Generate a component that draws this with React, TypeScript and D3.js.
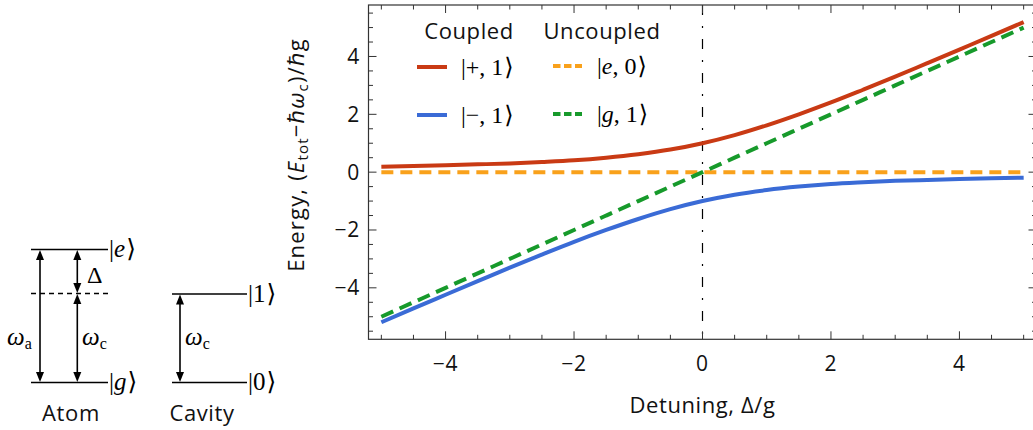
import React from "react";
import * as d3 from "d3";

const detuning = [-5, -4.5, -4, -3.5, -3, -2.5, -2, -1.5, -1, -0.5, 0, 0.5, 1, 1.5, 2, 2.5, 3, 3.5, 4, 4.5, 5];
const plusState = [0.19, 0.21, 0.24, 0.27, 0.3, 0.35, 0.41, 0.5, 0.62, 0.78, 1.0, 1.28, 1.62, 2.0, 2.41, 2.85, 3.3, 3.77, 4.24, 4.71, 5.19];
const minusState = [-5.19, -4.71, -4.24, -3.77, -3.3, -2.85, -2.41, -2.0, -1.62, -1.28, -1.0, -0.78, -0.62, -0.5, -0.41, -0.35, -0.3, -0.27, -0.24, -0.21, -0.19];
const uncoupledE0 = [0, 0, 0, 0, 0, 0, 0, 0, 0, 0, 0, 0, 0, 0, 0, 0, 0, 0, 0, 0, 0];
const uncoupledG1 = [-5, -4.5, -4, -3.5, -3, -2.5, -2, -1.5, -1, -0.5, 0, 0.5, 1, 1.5, 2, 2.5, 3, 3.5, 4, 4.5, 5];
const xMajorTicks = [-4, -2, 0, 2, 4];
const yMajorTicks = [-4, -2, 0, 2, 4];

const RED = "#c93a14";
const BLUE = "#3a6bd6";
const ORANGE = "#f9a11b";
const GREEN = "#179a2b";
const SANS = "'Open Sans', 'Noto Sans', sans-serif";
const SERIF = "'Liberation Serif', 'DejaVu Serif', serif";

const L = 368.5, R = 1036.5, T = 5, B = 339.3;

function Ket({ x, y, parts, size = 24 }: { x: number; y: number; parts: { t: string; i?: boolean }[]; size?: number }) {
  return (
    <text x={x} y={y} fontFamily={SERIF} fontSize={size} fill="#000">
      <tspan>|</tspan>
      {parts.map((p, k) => (
        <tspan key={k} fontStyle={p.i ? "italic" : "normal"}>{p.t}</tspan>
      ))}
      <tspan fontFamily="'DejaVu Serif', serif" fontSize={size} dx={1}>⟩</tspan>
    </text>
  );
}

function DArrow({ x, y1, y2 }: { x: number; y1: number; y2: number }) {
  const h = 10, w = 4;
  return (
    <g>
      <line x1={x} x2={x} y1={y1 + h - 1} y2={y2 - h + 1} stroke="#000" strokeWidth={1.6} />
      <path d={`M${x},${y1} L${x - w},${y1 + h} L${x + w},${y1 + h} Z`} fill="#000" />
      <path d={`M${x},${y2} L${x - w},${y2 - h} L${x + w},${y2 - h} Z`} fill="#000" />
    </g>
  );
}

function Omega({ x, y, sub }: { x: number; y: number; sub: string }) {
  return (
    <text x={x} y={y} fontFamily={SERIF} fontSize={25} fill="#000">
      <tspan fontStyle="italic">ω</tspan>
      <tspan fontSize={16} dy={4}>{sub}</tspan>
    </text>
  );
}

export default function App() {
  const x = d3.scaleLinear().domain([-5.2, 5.2]).range([L, R]);
  const y = d3.scaleLinear().domain([-5.78, 5.78]).range([B, T]);
  const line = d3
    .line<[number, number]>()
    .x((d) => x(d[0]))
    .y((d) => y(d[1]))
    .curve(d3.curveMonotoneX);
  const pts = (vals: number[]) => detuning.map((d, i) => [d, vals[i]] as [number, number]);

  const xMinor = d3.range(-5, 5.01, 0.5).filter((v) => !xMajorTicks.includes(v));
  const yMinor = d3.range(-5.5, 5.51, 0.5).filter((v) => !yMajorTicks.includes(v));
  const frame = "#333";
  const lab = { fontFamily: SANS, fill: "#111" } as const;

  return (
    <svg width={1033} height={430} style={{ position: "absolute", left: 0, top: 0, background: "#fff" }}>
      {/* Energy level diagram */}
      <g stroke="#000" strokeWidth={1.6}>
        <line x1={31} x2={108} y1={249.5} y2={249.5} />
        <line x1={31} x2={108} y1={293.5} y2={293.5} strokeDasharray="5,4" />
        <line x1={31} x2={108} y1={382.5} y2={382.5} />
        <line x1={172} x2={247} y1={294} y2={294} />
        <line x1={172} x2={247} y1={382.5} y2={382.5} />
      </g>
      <DArrow x={40} y1={250} y2={382} />
      <DArrow x={77.3} y1={250} y2={293} />
      <DArrow x={77.3} y1={294} y2={382} />
      <DArrow x={180} y1={294.5} y2={382} />
      <Omega x={7} y={345} sub="a" />
      <Omega x={82} y={345} sub="c" />
      <Omega x={185} y={345} sub="c" />
      <text x={87} y={283} fontFamily={SERIF} fontSize={24}>Δ</text>
      <Ket x={109} y={257} parts={[{ t: "e", i: true }]} size={25} />
      <Ket x={109} y={390} parts={[{ t: "g", i: true }]} size={25} />
      <Ket x={248} y={302} parts={[{ t: "1" }]} size={25} />
      <Ket x={248} y={390} parts={[{ t: "0" }]} size={25} />
      <text x={71} y={421} textAnchor="middle" fontSize={22} letterSpacing={0.6} {...lab}>Atom</text>
      <text x={202} y={421} textAnchor="middle" fontSize={22} letterSpacing={0.6} {...lab}>Cavity</text>

      {/* Plot */}
      <line x1={x(0)} x2={x(0)} y1={T} y2={B} stroke="#000" strokeWidth={1.2} strokeDasharray="10,11,2,11" />
      <path d={line(pts(uncoupledE0)) || ""} fill="none" stroke={ORANGE} strokeWidth={4} strokeDasharray="12,7" />
      <path d={line(pts(uncoupledG1)) || ""} fill="none" stroke={GREEN} strokeWidth={4} strokeDasharray="13,7" />
      <path d={line(pts(plusState)) || ""} fill="none" stroke={RED} strokeWidth={4} />
      <path d={line(pts(minusState)) || ""} fill="none" stroke={BLUE} strokeWidth={4} />

      <rect x={L} y={T} width={R - L} height={B - T} fill="none" stroke={frame} strokeWidth={1.2} />
      <g stroke={frame} strokeWidth={1}>
        {xMajorTicks.map((v) => (
          <g key={"xm" + v}>
            <line x1={x(v)} x2={x(v)} y1={B} y2={B - 8} />
            <line x1={x(v)} x2={x(v)} y1={T} y2={T + 8} />
          </g>
        ))}
        {xMinor.map((v) => (
          <g key={"xn" + v}>
            <line x1={x(v)} x2={x(v)} y1={B} y2={B - 4.5} />
            <line x1={x(v)} x2={x(v)} y1={T} y2={T + 4.5} />
          </g>
        ))}
        {yMajorTicks.map((v) => (
          <g key={"ym" + v}>
            <line x1={L} x2={L + 8} y1={y(v)} y2={y(v)} />
            <line x1={R} x2={R - 8} y1={y(v)} y2={y(v)} />
          </g>
        ))}
        {yMinor.map((v) => (
          <g key={"yn" + v}>
            <line x1={L} x2={L + 4.5} y1={y(v)} y2={y(v)} />
            <line x1={R} x2={R - 4.5} y1={y(v)} y2={y(v)} />
          </g>
        ))}
      </g>
      {xMajorTicks.map((v) => (
        <text key={"xl" + v} x={x(v)} y={370.5} textAnchor="middle" fontSize={21} letterSpacing={0.8} {...lab}>
          {v < 0 ? "−" + Math.abs(v) : String(v)}
        </text>
      ))}
      {yMajorTicks.map((v) => (
        <text key={"yl" + v} x={360} y={y(v) + 7.5} textAnchor="end" fontSize={21} letterSpacing={0.8} {...lab}>
          {v < 0 ? "−" + Math.abs(v) : String(v)}
        </text>
      ))}
      <text x={702.5} y={413} textAnchor="middle" fontSize={22} letterSpacing={0.6} {...lab}>Detuning, Δ/g</text>
      <text transform="translate(304,155) rotate(-90)" textAnchor="middle" fontSize={22} letterSpacing={1.2} {...lab}>
        Energy, (<tspan fontStyle="italic">E</tspan>
        <tspan fontSize={15} dy={4}>tot</tspan>
        <tspan dy={-4}>−ℏ</tspan>
        <tspan fontStyle="italic">ω</tspan>
        <tspan fontSize={15} dy={4}>c</tspan>
        <tspan dy={-4}>)/ℏg</tspan>
      </text>

      {/* Legend */}
      <text x={469} y={39} textAnchor="middle" fontSize={22} letterSpacing={0.6} {...lab}>Coupled</text>
      <text x={602} y={39} textAnchor="middle" fontSize={22} letterSpacing={0.6} {...lab}>Uncoupled</text>
      <line x1={417} x2={447} y1={67} y2={67} stroke={RED} strokeWidth={4} />
      <line x1={417} x2={447} y1={115} y2={115} stroke={BLUE} strokeWidth={4} />
      <line x1={553} x2={582} y1={66} y2={66} stroke={ORANGE} strokeWidth={4} strokeDasharray="7.5,3.5" />
      <line x1={553} x2={582} y1={114} y2={114} stroke={GREEN} strokeWidth={4} strokeDasharray="7.5,3.5" />
      <Ket x={461} y={75} parts={[{ t: "+, 1" }]} />
      <Ket x={461} y={123} parts={[{ t: "−, 1" }]} />
      <Ket x={597} y={74} parts={[{ t: "e", i: true }, { t: ", 0" }]} />
      <Ket x={597} y={122} parts={[{ t: "g", i: true }, { t: ", 1" }]} />
    </svg>
  );
}
